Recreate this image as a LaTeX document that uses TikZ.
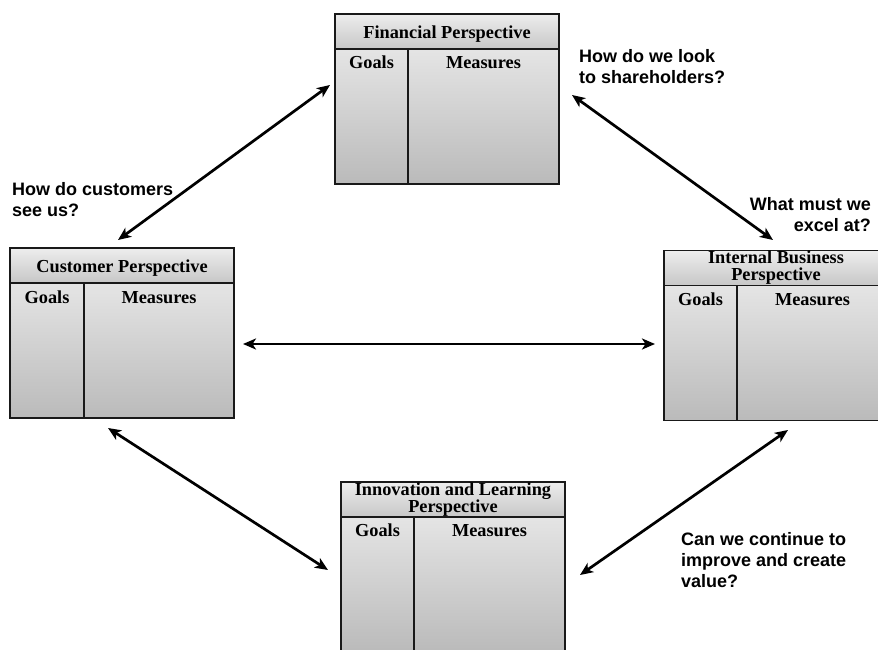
\documentclass[tikz,border=0pt]{standalone}
\usepackage{fontspec}
\setmainfont{Liberation Serif}
\newfontfamily\qfont{Liberation Sans}
\usetikzlibrary{arrows.meta,calc}
\definecolor{bodytop}{gray}{0.94}
\definecolor{bodybot}{gray}{0.73}
\definecolor{hdrtop}{gray}{0.93}
\definecolor{hdrbot}{gray}{0.78}
\definecolor{edge}{gray}{0.1}
\begin{document}
\begin{tikzpicture}[x=1pt,y=-1pt,
  panel/.style={draw=edge, line width=1.8pt, top color=bodytop, bottom color=bodybot,
    minimum width=224pt, minimum height=170pt, anchor=north west, inner sep=0pt, outer sep=0pt},
  header/.style={draw=edge, line width=1.8pt, top color=hdrtop, bottom color=hdrbot,
    minimum width=224pt, minimum height=35pt, anchor=north west, inner sep=0pt, outer sep=0pt},
  divider/.style={draw=edge, line width=1.8pt},
  ttl/.style={font=\fontsize{18.3}{17}\selectfont\bfseries, anchor=base, inner sep=0pt},
  ttltwo/.style={font=\fontsize{18.3}{17}\selectfont\bfseries, anchor=north, align=center, inner sep=0pt},
  col/.style={font=\fontsize{18.3}{17}\selectfont\bfseries, anchor=base, inner sep=0pt},
  question/.style={font=\qfont\fontsize{18}{21}\selectfont\bfseries, inner sep=0pt},
  link/.style={{Stealth[length=13pt,width=11pt,inset=3.5pt]}-{Stealth[length=13pt,width=11pt,inset=3.5pt]}, line width=2.7pt, draw=black}]

\useasboundingbox (0,0) rectangle (878,650);
\clip (0,0) rectangle (878,650);

% Financial perspective
\node[panel] (fin) at (335,14) {};
\node[header] (finh) at (fin.north west) {};
\draw[divider] ($(finh.south west)+(73,0)$) -- ($(fin.south west)+(73,0)$);
\node[ttl] (fint) at ($(finh.north)+(0,24.5)$) {Financial Perspective};
\node[col] (fing) at ($(finh.south west)+(36.5,19.5)$) {Goals};
\node[col] (finm) at ($(finh.south west)+(148.5,19.5)$) {Measures};

% Customer perspective
\node[panel] (cus) at (10,248) {};
\node[header] (cush) at (cus.north west) {};
\draw[divider] ($(cush.south west)+(74,0)$) -- ($(cus.south west)+(74,0)$);
\node[ttl] (cust) at ($(cush.north)+(0,24)$) {Customer Perspective};
\node[col] (cusg) at ($(cush.south west)+(37,20)$) {Goals};
\node[col] (cusm) at ($(cush.south west)+(149,20)$) {Measures};

% Internal business perspective
\node[panel] (int) at (664,250.5) {};
\node[header] (inth) at (int.north west) {};
\draw[divider] ($(inth.south west)+(73,0)$) -- ($(int.south west)+(73,0)$);
\node[ttltwo] (intt) at ($(inth.north)+(0,0.5)$) {Internal Business\\Perspective};
\node[col] (intg) at ($(inth.south west)+(36.5,19.5)$) {Goals};
\node[col] (intm) at ($(inth.south west)+(148.5,19.5)$) {Measures};

% Innovation and learning perspective
\node[panel] (inn) at (341,482) {};
\node[header] (innh) at (inn.north west) {};
\draw[divider] ($(innh.south west)+(73,0)$) -- ($(inn.south west)+(73,0)$);
\node[ttltwo] (innt) at ($(innh.north)+(0,1)$) {Innovation and Learning\\Perspective};
\node[col] (inng) at ($(innh.south west)+(36.5,19.5)$) {Goals};
\node[col] (innm) at ($(innh.south west)+(148.5,19.5)$) {Measures};

% Arrow end points
\coordinate (fin-sw) at (330,85);
\coordinate (cus-ne) at (118,240);
\coordinate (fin-se) at (572,95);
\coordinate (int-nw) at (773,240);
\coordinate (cus-e) at (243,344);
\coordinate (int-w) at (655,344);
\coordinate (cus-se) at (108,428);
\coordinate (inn-nw) at (328,570);
\coordinate (int-sw) at (788,430);
\coordinate (inn-ne) at (580,575);

\draw[link] (fin-sw) -- (cus-ne);
\draw[link] (fin-se) -- (int-nw);
\draw[link] (cus-e) -- (int-w);
\draw[link] (cus-se) -- (inn-nw);
\draw[link] (int-sw) -- (inn-ne);

% Questions
\node[question, anchor=north west, align=left] (q1) at (579,49.5) {How do we look\\to shareholders?};
\node[question, anchor=north east, align=right] (q2) at (871,197) {What must we\\excel at?};
\node[question, anchor=north west, align=left] (q3) at (12,182) {How do customers\\see us?};
\node[question, anchor=north west, align=left] (q4) at (681,532) {Can we continue to\\improve and create\\value?};

\end{tikzpicture}
\end{document}
